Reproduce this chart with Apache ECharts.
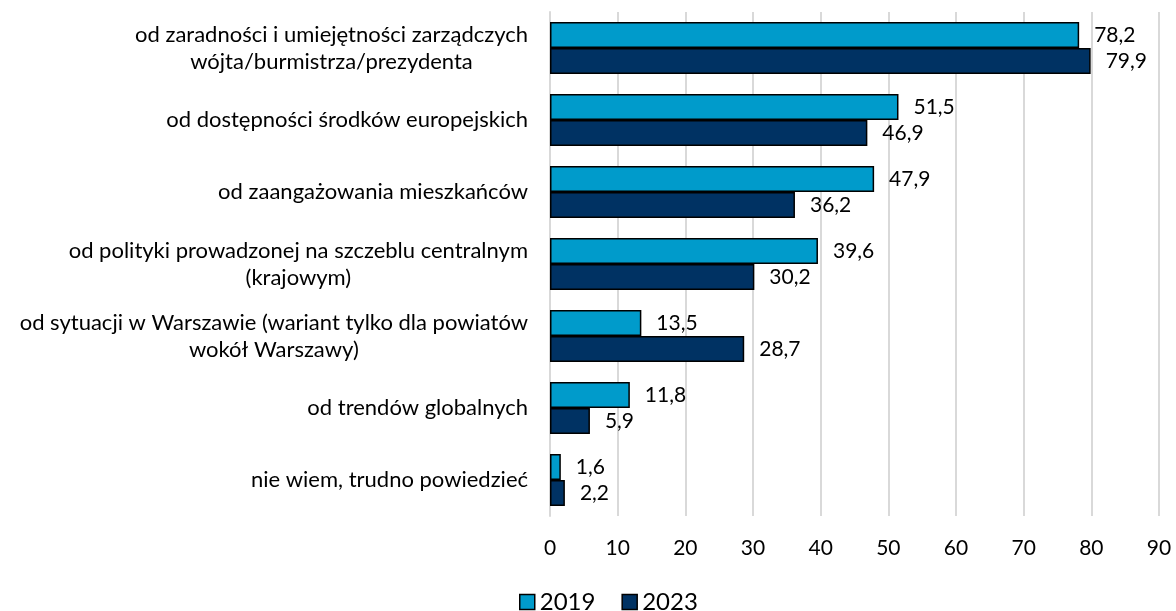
<!DOCTYPE html>
<html>
<head>
<meta charset="utf-8">
<script src="https://cdn.jsdelivr.net/npm/echarts@6/dist/echarts.min.js"></script>
<style>
  html, body { margin: 0; padding: 0; background: #fff; }
  #chart { width: 1176px; height: 611px; }
</style>
</head>
<body>
<div id="chart"></div>
<script>
const categories = [
  'od zaradności i umiejętności zarządczych\nwójta/burmistrza/prezydenta',
  'od dostępności środków europejskich',
  'od zaangażowania mieszkańców',
  'od polityki prowadzonej na szczeblu centralnym\n(krajowym)',
  'od sytuacji w Warszawie (wariant tylko dla powiatów\nwokół Warszawy)',
  'od trendów globalnych',
  'nie wiem, trudno powiedzieć',
];
const values2019 = [78.2, 51.5, 47.9, 39.6, 13.5, 11.8, 1.6];
const values2023 = [79.9, 46.9, 36.2, 30.2, 28.7, 5.9, 2.2];
const seriesNames = ['2019', '2023'];

const font = 'Lato';
const chart = echarts.init(document.getElementById('chart'));

// etykiety z przecinkiem dziesiętnym
const fmt = (p) => p.value.toFixed(1).replace('.', ',');

const makeSeries = (name, data, color) => ({
  name,
  type: 'bar',
  data,
  barGap: '0%',
  barCategoryGap: '28%',
  itemStyle: { color, borderColor: '#000', borderWidth: 1.5 },
  label: {
    show: true,
    position: 'right',
    distance: 15,
    color: '#000',
    fontFamily: font,
    fontSize: 21,
    formatter: fmt,
  },
});

chart.setOption({
  animation: false,
  grid: { left: 550, right: 17, top: 12, bottom: 95 },
  xAxis: {
    type: 'value',
    min: 0,
    max: 90,
    interval: 10,
    axisLine: { show: false },
    axisTick: { show: false },
    splitLine: { lineStyle: { color: '#d9d9d9', width: 2 } },
    axisLabel: { color: '#000', fontFamily: font, fontSize: 21, margin: 22 },
  },
  yAxis: {
    type: 'category',
    data: categories,
    inverse: true,
    axisLine: { lineStyle: { color: '#d9d9d9', width: 2 } },
    axisTick: { show: false },
    axisLabel: {
      color: '#000',
      fontFamily: font,
      fontSize: 22,
      margin: 22,
      align: 'right',
      // drugi wiersz wyśrodkowany względem pierwszego
      formatter: (v) => v.split('\n').map((s) => '{c|' + s + '}').join('\n'),
      rich: {
        c: { fontFamily: font, fontSize: 22, lineHeight: 27, color: '#000', align: 'center' },
      },
    },
  },
  legend: {
    top: 590,
    left: 519,
    padding: 0,
    icon: 'rect',
    itemWidth: 15,
    itemHeight: 15,
    itemGap: 26,
    itemStyle: { borderColor: '#000', borderWidth: 1.5 },
    textStyle: { color: '#000', fontFamily: font, fontSize: 24 },
    data: seriesNames,
  },
  series: [
    makeSeries(seriesNames[0], values2019, '#009bcb'),
    makeSeries(seriesNames[1], values2023, '#003263'),
  ],
});
</script>
</body>
</html>
